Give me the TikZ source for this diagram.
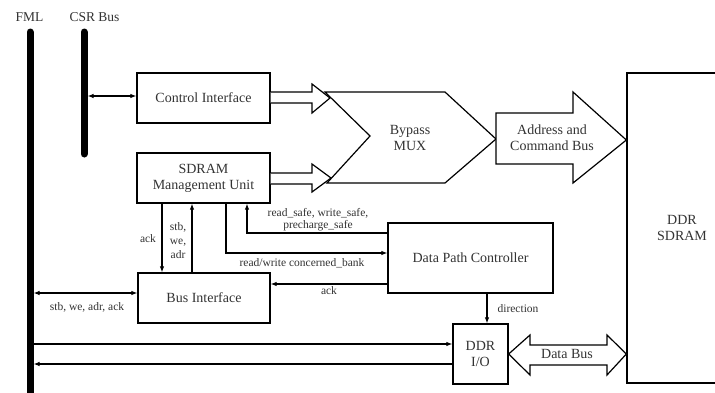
\documentclass[tikz,border=0pt]{standalone}
\usepackage{fontspec}
\setmainfont{Liberation Serif}
\usetikzlibrary{arrows.meta}
\begin{document}
\begin{tikzpicture}[x=1pt,y=-1pt,
  every node/.style={text=black!80},
  box/.style={draw, line width=1.3pt, fill=white, inner sep=0pt, align=center, font=\fontsize{14}{16}\selectfont},
  sig/.style={line width=1.1pt, -{Latex[length=6pt,width=4.5pt]}},
  bisig/.style={line width=1.1pt, {Latex[length=6pt,width=4.5pt]}-{Latex[length=6pt,width=4.5pt]}},
  lbl/.style={font=\fontsize{11.5}{13}\selectfont, inner sep=0pt, align=center},
  toplbl/.style={font=\fontsize{13.5}{15}\selectfont, inner sep=0pt},
  fat/.style={draw, line width=1.2pt, fill=white, line join=miter},
  bar/.style={line width=7pt, line cap=round}]
\clip (0,0) rectangle (715,392);
\fill[white] (0,0) rectangle (715,392);

% bus bars
\coordinate (fmltop) at (30,32);
\coordinate (fmlbot) at (30,400);
\coordinate (csrtop) at (84,32);
\coordinate (csrbot) at (84,154);
\draw[bar] (fmltop) -- (fmlbot);
\draw[bar] (csrtop) -- (csrbot);
\node[toplbl] (fmllbl) at (29.5,17) {FML};
\node[toplbl] (csrlbl) at (94.5,17) {CSR Bus};

% boxes
\node[box, minimum width=133pt, minimum height=50pt] (ci) at (203.5,98) {Control Interface};
\node[box, minimum width=133pt, minimum height=50pt] (mu) at (203.5,178) {SDRAM\\Management Unit};
\node[box, minimum width=132pt, minimum height=50pt] (bi) at (204,298) {Bus Interface};
\node[box, minimum width=165pt, minimum height=70pt] (dpc) at (470.5,258) {Data Path Controller};
\node[box, minimum width=55pt, minimum height=60pt] (io) at (480.5,354) {DDR\\I/O};
\node[box, minimum width=110pt, minimum height=310pt] (sd) at (682,228) {DDR\\SDRAM};

% wide arrows into MUX
\draw[fat] (ci.east |- 0,92) -- (312,92) -- (312,84) -- (330,98) -- (312,113) -- (312,103) -- (ci.east |- 0,103);
\draw[fat] (mu.east |- 0,173) -- (312,173) -- (312,164) -- (331,178) -- (312,192) -- (312,184) -- (mu.east |- 0,184);
% MUX
\draw[fat] (325,92) -- (445,92) -- (496,139) -- (445,183) -- (327,183) -- (370,136) -- cycle;
\node[box, draw=none, fill=none] (mux) at (410,138) {Bypass\\MUX};
% address and command bus
\draw[fat] (496,113) -- (573,113) -- (573,92) -- (sd.west |- 0,140) -- (573,183) -- (573,164) -- (496,164) -- cycle;
\node[box, draw=none, fill=none] (acb) at (552,138) {Address and\\Command Bus};
% data bus
\draw[fat] (io.east) -- (530,335) -- (530,345) -- (607,345) -- (607,335) -- (sd.west |- io.east) -- (607,375) -- (607,365) -- (530,365) -- (530,375) -- cycle;
\node[box, draw=none, fill=none] (dbus) at (567,354) {Data Bus};

% CSR <-> Control Interface
\coordinate (csrA) at (87.5,96);
\draw[bisig] (csrA) -- (csrA -| ci.west);
% FML <-> Bus Interface
\coordinate (fmlA) at (33.5,293);
\draw[bisig] (fmlA) -- (fmlA -| bi.west);
\node[lbl] (l1) at (87,307) {stb, we, adr, ack};
% FML -> DDR I/O
\coordinate (fmlB) at (33.5,344);
\draw[sig] (fmlB) -- (fmlB -| io.west);
% DDR I/O -> FML
\coordinate (fmlC) at (33.5,364);
\draw[sig] (fmlC -| io.west) -- (fmlC);

% MU <-> BI
\draw[sig] (mu.south -| 162,0) -- (bi.north -| 162,0);
\node[lbl] (l2) at (148,239) {ack};
\draw[sig] (bi.north -| 192,0) -- (mu.south -| 192,0);
\node[lbl, font=\fontsize{11.5}{14}\selectfont] (l3) at (178,241) {stb,\\we,\\adr};

% DPC -> MU safe signals
\draw[sig] (dpc.west |- 0,233) -| (mu.south -| 247,0);
\node[lbl, font=\fontsize{11.5}{12}\selectfont] (l4) at (318,220) {read\_safe, write\_safe,\\precharge\_safe};
% MU -> DPC concerned bank
\draw[sig] (mu.south -| 226,0) |- (dpc.west |- 0,253);
\node[lbl] (l5) at (302,263) {read/write concerned\_bank};
% DPC -> BI ack
\draw[sig] (dpc.west |- 0,284) -- (bi.east |- 0,284);
\node[lbl] (l6) at (329,291) {ack};
% direction
\draw[sig] (dpc.south -| 487,0) -- (io.north -| 487,0);
\node[lbl] (l7) at (518,309) {direction};
\end{tikzpicture}
\end{document}
